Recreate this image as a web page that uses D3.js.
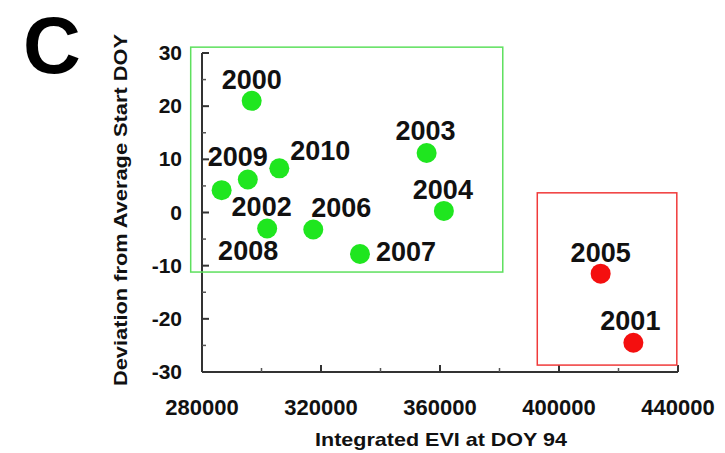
<!DOCTYPE html>
<html lang="en">
<head>
    <meta charset="UTF-8">
    <title>Panel C</title>
    <script src="https://d3js.org/d3.v7.min.js"></script>
    <style>
        body { margin: 0; background-color: #ffffff; }
        svg { display: block; font-family: "Liberation Sans", Arial, sans-serif; }
    </style>
</head>
<body>
    <svg></svg>

    <script>
        let width = 725, height = 453;

        // data
        let years   = ["2000", "2001", "2002", "2003", "2004", "2005", "2006", "2007", "2008", "2009", "2010"];
        let evi     = [296700, 425000, 286600, 355500, 361300, 414000, 317400, 333100, 301900, 295400, 306000];
        let devDoy  = [21.0, -24.5, 4.2, 11.2, 0.3, -11.5, -3.2, -7.8, -3.0, 6.2, 8.3];
        let group   = ["early", "late", "early", "early", "early", "late", "early", "early", "early", "early", "early"];

        let xTicks = [280000, 320000, 360000, 400000, 440000];
        let yTicks = [-30, -20, -10, 0, 10, 20, 30];

        // label placement in px relative to the dot
        let labelOffset = [[0, -12], [-3, -13], [40, 26], [-1, -13], [-1, -12], [0, -12],
                           [28, -13], [46, 7], [-19, 32], [-10, -14], [41, -8]];

        // highlight boxes in data units: [x0, x1, y0, y1]
        let boxes = [
            {range: [276200, 381100, -11.2, 31.1], color: "#5ee05e"},
            {range: [392700, 439600, -28.7, 3.7], color: "#f03a3a"}
        ];

        let dotColor = {early: "#1fe61f", late: "#f40f0f"};

        let svg = d3.select("svg")
            .attr("width", width)
            .attr("height", height);

        let x = d3.scaleLinear().domain([280000, 440000]).range([202, 678]);
        let y = d3.scaleLinear().domain([-30, 30]).range([372, 53]);

        // x axis
        let xAxis = svg.append("g").attr("transform", "translate(0," + y(-30) + ")");
        xAxis.append("line")
            .attr("x1", x(280000)).attr("x2", x(440000))
            .attr("stroke", "#333").attr("stroke-width", 2);
        xAxis.selectAll(".major")
            .data(xTicks)
            .enter().append("line")
            .attr("x1", d => x(d)).attr("x2", d => x(d))
            .attr("y1", 0).attr("y2", -7)
            .attr("stroke", "#333").attr("stroke-width", 2);
        xAxis.selectAll(".minor")
            .data(d3.range(300000, 440000, 40000))
            .enter().append("line")
            .attr("x1", d => x(d)).attr("x2", d => x(d))
            .attr("y1", 0).attr("y2", -4)
            .attr("stroke", "#555").attr("stroke-width", 1.5);
        xAxis.selectAll("text")
            .data(xTicks)
            .enter().append("text")
            .attr("x", d => x(d))
            .attr("y", 43)
            .attr("text-anchor", "middle")
            .attr("font-size", 22)
            .attr("font-weight", "bold")
            .attr("fill", "#111")
            .text(d => d);

        // y axis
        let yAxis = svg.append("g").attr("transform", "translate(" + x(280000) + ",0)");
        yAxis.append("line")
            .attr("y1", y(-30)).attr("y2", y(30))
            .attr("stroke", "#333").attr("stroke-width", 2);
        yAxis.selectAll(".major")
            .data(yTicks)
            .enter().append("line")
            .attr("y1", d => y(d)).attr("y2", d => y(d))
            .attr("x1", 0).attr("x2", 7)
            .attr("stroke", "#333").attr("stroke-width", 2);
        yAxis.selectAll(".minor")
            .data(d3.range(-25, 30, 10))
            .enter().append("line")
            .attr("y1", d => y(d)).attr("y2", d => y(d))
            .attr("x1", 0).attr("x2", 4)
            .attr("stroke", "#555").attr("stroke-width", 1.5);
        yAxis.selectAll("text")
            .data(yTicks)
            .enter().append("text")
            .attr("x", -20)
            .attr("y", d => y(d) + 7)
            .attr("text-anchor", "end")
            .attr("font-size", 21)
            .attr("font-weight", "bold")
            .attr("fill", "#111")
            .text(d => d);

        // axis titles
        svg.append("text")
            .attr("x", 441)
            .attr("y", 446)
            .attr("text-anchor", "middle")
            .attr("font-size", 19)
            .attr("font-weight", "bold")
            .attr("fill", "#111")
            .attr("textLength", 252)
            .attr("lengthAdjust", "spacingAndGlyphs")
            .text("Integrated EVI at DOY 94");

        svg.append("text")
            .attr("transform", "translate(127,210) rotate(-90)")
            .attr("text-anchor", "middle")
            .attr("font-size", 19)
            .attr("font-weight", "bold")
            .attr("fill", "#111")
            .attr("textLength", 352)
            .attr("lengthAdjust", "spacingAndGlyphs")
            .text("Deviation from Average Start DOY");

        // panel letter
        svg.append("text")
            .attr("x", 23)
            .attr("y", 73)
            .attr("font-size", 80)
            .attr("font-weight", "bold")
            .attr("fill", "#000")
            .text("C");

        // boxes
        svg.selectAll(".box")
            .data(boxes)
            .enter().append("rect")
            .attr("x", d => x(d.range[0]))
            .attr("y", d => y(d.range[3]))
            .attr("width", d => x(d.range[1]) - x(d.range[0]))
            .attr("height", d => y(d.range[2]) - y(d.range[3]))
            .attr("fill", "none")
            .attr("stroke", d => d.color)
            .attr("stroke-width", 1.5);

        // dots and labels
        let pts = years.map((yr, i) => ({year: yr, x: evi[i], y: devDoy[i], g: group[i], off: labelOffset[i]}));

        svg.selectAll(".dot")
            .data(pts)
            .enter().append("circle")
            .attr("cx", d => x(d.x))
            .attr("cy", d => y(d.y))
            .attr("r", 10)
            .attr("fill", d => dotColor[d.g]);

        svg.selectAll(".lbl")
            .data(pts)
            .enter().append("text")
            .attr("x", d => x(d.x) + d.off[0])
            .attr("y", d => y(d.y) + d.off[1])
            .attr("text-anchor", "middle")
            .attr("font-size", 27)
            .attr("font-weight", "bold")
            .attr("fill", "#111")
            .text(d => d.year);
    </script>
</body>
</html>
